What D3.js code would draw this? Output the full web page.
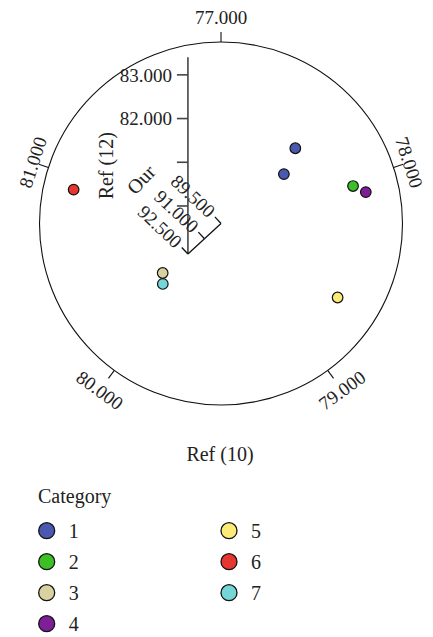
<!DOCTYPE html>
<html>
<head>
<meta charset="utf-8">
<script src="https://cdn.jsdelivr.net/npm/d3@7"></script>
<style>
  html, body { margin: 0; padding: 0; background: #fff; }
  svg { display: block; }
  text { font-family: "Liberation Serif", "DejaVu Serif", serif; fill: #222; }
</style>
</head>
<body>
<svg id="chart" width="433" height="637"></svg>
<script>
// Categories and their fill colours
const categories = ["1", "2", "3", "4", "5", "6", "7"];
const categoryColors = ["#4a58b0", "#3dbf26", "#d9d2a0", "#7f1f98", "#fdeb78", "#e5372f", "#74d6d6"];

// Observations: category, Ref (10) (angle), Ref (12) (radius)
const pointCategory = ["1", "1", "2", "4", "5", "3", "7", "6"];
const pointRef10 = [77.62, 77.72, 78.03, 78.08, 78.70, 80.19, 80.11, 80.93];
const pointRef12 = [81.32, 80.73, 82.04, 82.29, 82.06, 80.65, 80.82, 82.36];

// Axis ticks
const angleTicks = [77, 78, 79, 80, 81];
const ref12Ticks = [80, 81, 82, 83];
const ref12Labels = [82, 83];
const ourTicks = [89.5, 91.0, 92.5];

const svg = d3.select("#chart");
const cx = 221, cy = 223.5, R = 181.5;

// Angular scale: Ref (10), full turn clockwise from the top
const angle = d3.scaleLinear().domain([77, 82]).range([0, 2 * Math.PI]);
// Radial scale shared with the vertical Ref (12) axis
const radial = d3.scaleLinear().domain([78.9, 83.0]).range([0, 179.2]);
// Depth axis "Our" runs from the centre toward the lower left
const our = d3.scaleLinear().domain([89.5, 92.5]).range([0, 45]);
const ourDir = [-0.735, 0.679];
const ourPerp = [-0.679, -0.735];

const fmt = d3.format(".3f");
const tickSize = 19, titleSize = 20;
const g = svg.append("g").attr("transform", `translate(${cx},${cy})`);

// Outer circle
g.append("circle").attr("r", R).attr("fill", "none").attr("stroke", "#111").attr("stroke-width", 1.1);

// Angular ticks and labels (labels near the sides sit a little closer in)
const labelRadius = d => Math.abs(Math.sin(angle(d))) > 0.9 ? 198 : 206;
const at = g.selectAll("g.atick").data(angleTicks).join("g").attr("class", "atick");
at.append("line")
  .attr("x1", d => R * Math.sin(angle(d)))
  .attr("y1", d => -R * Math.cos(angle(d)))
  .attr("x2", d => (R + 10) * Math.sin(angle(d)))
  .attr("y2", d => -(R + 10) * Math.cos(angle(d)))
  .attr("stroke", "#111").attr("stroke-width", 1.1);
at.append("text")
  .attr("transform", d => {
    const a = angle(d), deg = a * 180 / Math.PI, lr = labelRadius(d);
    const x = lr * Math.sin(a), y = -lr * Math.cos(a);
    let rot = deg;
    if (deg > 90 && deg < 270) rot = deg - 180;
    else if (deg >= 270) rot = deg - 360;
    return `translate(${x},${y}) rotate(${rot})`;
  })
  .attr("text-anchor", "middle").attr("dy", "0.35em")
  .attr("font-size", tickSize)
  .text(d => fmt(d));

// Vertical Ref (12) axis, standing at the far end of the Our axis
const baseX = our(92.5) * ourDir[0], baseY = our(92.5) * ourDir[1];
const vy = v => baseY - radial(v);
g.append("line").attr("x1", baseX).attr("x2", baseX)
  .attr("y1", baseY).attr("y2", vy(83.4))
  .attr("stroke", "#444").attr("stroke-width", 1.6);
g.selectAll("line.vtick").data(ref12Ticks).join("line").attr("class", "vtick")
  .attr("x1", baseX - 11).attr("x2", baseX)
  .attr("y1", d => vy(d)).attr("y2", d => vy(d))
  .attr("stroke", "#444").attr("stroke-width", 1.6);
g.selectAll("text.vlab").data(ref12Labels).join("text").attr("class", "vlab")
  .attr("x", baseX - 16).attr("y", d => vy(d)).attr("dy", "0.35em")
  .attr("text-anchor", "end").attr("font-size", tickSize)
  .text(d => fmt(d));
g.append("text")
  .attr("transform", `translate(${baseX - 82},${vy(80.92)}) rotate(-90)`)
  .attr("text-anchor", "middle").attr("dy", "0.35em").attr("font-size", titleSize)
  .text("Ref (12)");

// Our axis
g.append("line").attr("x1", 0).attr("y1", 0)
  .attr("x2", baseX).attr("y2", baseY)
  .attr("stroke", "#111").attr("stroke-width", 1.3);
const ot = g.selectAll("g.otick").data(ourTicks).join("g").attr("class", "otick")
  .attr("transform", d => `translate(${our(d) * ourDir[0]},${our(d) * ourDir[1]})`);
ot.append("line").attr("x1", 0).attr("y1", 0)
  .attr("x2", 9 * ourPerp[0]).attr("y2", 9 * ourPerp[1])
  .attr("stroke", "#111").attr("stroke-width", 1.3);
const oRot = Math.atan2(-ourPerp[1], -ourPerp[0]) * 180 / Math.PI;
ot.append("text")
  .attr("transform", `translate(${13 * ourPerp[0]},${13 * ourPerp[1]}) rotate(${oRot - 4})`)
  .attr("text-anchor", "end").attr("dy", "0.35em").attr("font-size", tickSize)
  .text(d => fmt(d));
g.append("text")
  .attr("transform", `translate(-80,-44) rotate(-47)`)
  .attr("text-anchor", "middle").attr("dy", "0.35em").attr("font-size", titleSize)
  .text("Our");

// Points
const color = d3.scaleOrdinal().domain(categories).range(categoryColors);
g.selectAll("circle.pt").data(pointRef10.map((v, i) => i)).join("circle").attr("class", "pt")
  .attr("cx", i => radial(pointRef12[i]) * Math.sin(angle(pointRef10[i])))
  .attr("cy", i => -radial(pointRef12[i]) * Math.cos(angle(pointRef10[i])))
  .attr("r", 5.3)
  .attr("fill", i => color(pointCategory[i]))
  .attr("stroke", "#111").attr("stroke-width", 1.2);

// Angular axis title
svg.append("text").attr("x", 220).attr("y", 461)
  .attr("text-anchor", "middle").attr("font-size", titleSize)
  .text("Ref (10)");

// Legend
const legend = svg.append("g");
legend.append("text").attr("x", 38).attr("y", 503).attr("font-size", titleSize).text("Category");
const li = legend.selectAll("g.item").data(categories).join("g").attr("class", "item")
  .attr("transform", (d, i) => {
    const col = i < 4 ? 0 : 1, row = i < 4 ? i : i - 4;
    return `translate(${46.7 + col * 182.3},${530.7 + row * 31})`;
  });
li.append("circle").attr("r", 8).attr("fill", d => color(d))
  .attr("stroke", "#111").attr("stroke-width", 1.3);
li.append("text").attr("x", 22).attr("dy", "0.35em").attr("font-size", titleSize).text(d => d);
</script>
</body>
</html>
